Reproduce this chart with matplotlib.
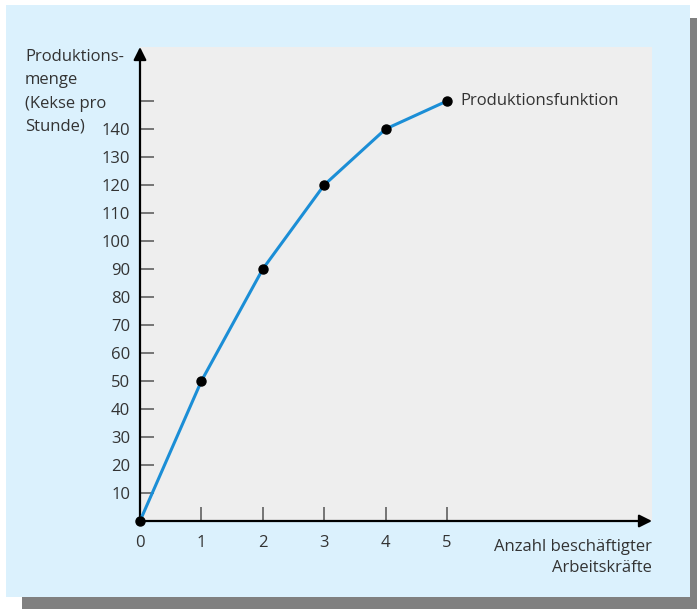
import matplotlib.pyplot as plt
from matplotlib.patches import Rectangle

# Produktionsfunktion: Arbeitskräfte -> Kekse pro Stunde
workers = [0, 1, 2, 3, 4, 5]
output = [0, 50, 90, 120, 140, 150]
y_ticks = [10, 20, 30, 40, 50, 60, 70, 80, 90, 100, 110, 120, 130, 140, 150]
y_labels = [str(v) for v in y_ticks[:-1]] + [""]
x_ticks = [1, 2, 3, 4, 5]
y_title = ['Produktions-', 'menge', '(Kekse pro', 'Stunde)']

W, H = 697, 609
FS = 12
plt.rcParams['font.family'] = ['Open Sans', 'DejaVu Sans']
fig = plt.figure(figsize=(W / 100, H / 100), dpi=100, facecolor='white')


def box(x0, y0, x1, y1):
    # pixel box (top-left origin) -> figure fractions
    return x0 / W, 1 - y1 / H, (x1 - x0) / W, (y1 - y0) / H


# shadow and light blue panel
for (x0, y0, x1, y1), col in [((22, 597, 697, 609), '#808080'),
                                ((690, 18, 697, 609), '#808080'),
                                ((6, 5, 690, 597), '#dbf1fd')]:
    l, b, w, h = box(x0, y0, x1, y1)
    fig.patches.append(Rectangle((l, b), w, h, transform=fig.transFigure,
                                 facecolor=col, edgecolor='none', zorder=-5))

l, b, w, h = box(140, 47, 652, 521)
ax = fig.add_axes([l, b, w, h])
ax.set_zorder(2)
ax.set_facecolor('#eeeeee')
ax.set_xlim(0, 8.34)
ax.set_ylim(0, 169.3)
for s in ax.spines.values():
    s.set_visible(False)

axis_col = '#505050'
for tip in [(1, 0), (0, 1)]:
    ax.annotate('', xy=tip, xytext=(0, 0), xycoords='axes fraction',
                arrowprops=dict(arrowstyle='-|>', color=axis_col, lw=1.6,
                                mutation_scale=19, shrinkA=0, shrinkB=0,
                                fc='black', ec='black'),
                annotation_clip=False)

ax.set_yticks(y_ticks)
ax.set_yticklabels(y_labels)
ax.set_xticks([0] + x_ticks)
ax.set_xticklabels([str(v) for v in [0] + x_ticks])
ax.tick_params(axis='y', direction='in', length=10, width=1.2,
               color='#606060', pad=7, labelsize=FS, labelcolor='#333333')
ax.tick_params(axis='x', direction='in', length=10, width=1.2,
               color='#606060', pad=10, labelsize=FS, labelcolor='#333333')
ax.xaxis.get_major_ticks()[0].tick1line.set_visible(False)

ax.plot(workers, output, color='#1b8ed6', lw=2.2, zorder=3, clip_on=False)
ax.plot(workers, output, 'o', color='black', ms=6.5, zorder=4, clip_on=False)
ax.annotate('Produktionsfunktion', xy=(workers[-1], output[-1]),
            xytext=(10, 0), textcoords='offset points', va='center',
            ha='left', fontsize=FS, color='#333333')

# y title, one line at a time so it sits beside the top tick labels
for i, line in enumerate(y_title):
    fig.text(25 / W, 1 - (57 + 23.3 * i) / H, line, ha='left', va='center',
             fontsize=FS, color='#333333')
fig.text(652 / W, 1 - 539 / H, 'Anzahl beschäftigter\nArbeitskräfte',
         ha='right', va='top', fontsize=FS, color='#333333', linespacing=1.4)

fig.savefig('out.png', dpi=100)
